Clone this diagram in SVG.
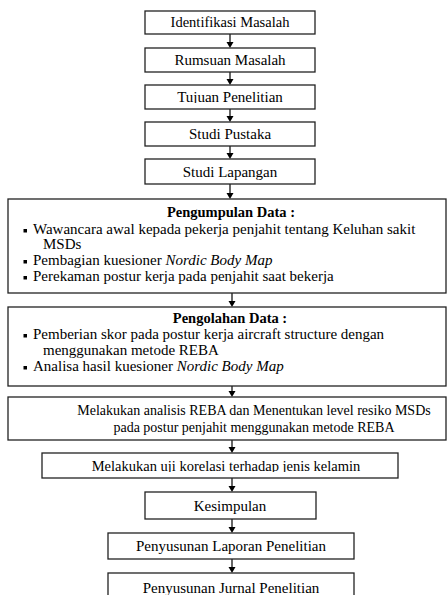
<svg xmlns="http://www.w3.org/2000/svg" width="447" height="595" viewBox="0 0 447 595">
<defs>
<style>
rect.b{fill:#fff;stroke:#222;stroke-width:1.3}
text{font-family:"Liberation Serif","Times New Roman","DejaVu Serif",serif;font-size:15px;fill:#000}
.c{text-anchor:middle}
.t{font-weight:bold;font-size:14.5px}
.i{font-style:italic}
.s{font-size:14px}
.m{font-size:14.5px}
.a line{stroke:#000;stroke-width:1.2}
.a polygon{fill:#000}
rect.bl{fill:#000}
</style>
<clipPath id="clip3"><rect x="146" y="86" width="168" height="17"/></clipPath>
<clipPath id="clip9"><rect x="43" y="454" width="354" height="18"/></clipPath>
</defs>
<rect width="447" height="595" fill="#fff"/>
<g id="connectors" class="a">
<line x1="230" y1="34" x2="230" y2="43"/><polygon points="226.5,42 233.5,42 230,48"/>
<line x1="230" y1="72" x2="230" y2="80"/><polygon points="226.5,79 233.5,79 230,85"/>
<line x1="230" y1="109" x2="230" y2="117"/><polygon points="226.5,116 233.5,116 230,122"/>
<line x1="230" y1="146" x2="230" y2="154"/><polygon points="226.5,153 233.5,153 230,159"/>
<line x1="230" y1="184" x2="230" y2="194"/><polygon points="226.5,193 233.5,193 230,199"/>
<line x1="232" y1="293" x2="232" y2="302"/><polygon points="228.5,301 235.5,301 232,307"/>
<line x1="232" y1="386" x2="232" y2="392"/><polygon points="228.5,391 235.5,391 232,397"/>
<line x1="232" y1="440" x2="232" y2="448"/><polygon points="228.5,447 235.5,447 232,453"/>
<line x1="232" y1="478" x2="232" y2="487"/><polygon points="228.5,486 235.5,486 232,492"/>
<line x1="232" y1="519" x2="232" y2="528"/><polygon points="228.5,527 235.5,527 232,533"/>
<line x1="232" y1="559" x2="232" y2="568"/><polygon points="228.5,567 235.5,567 232,573"/>
</g>
<g id="n1"><rect class="b" x="145" y="11" width="170" height="23"/><text class="c m" x="230" y="27">Identifikasi Masalah</text></g>
<g id="n2"><rect class="b" x="145" y="48" width="170" height="24"/><text class="c" x="230" y="65">Rumsuan Masalah</text></g>
<g id="n3"><rect class="b" x="145" y="85" width="170" height="24"/><text class="c" x="230" y="102" clip-path="url(#clip3)">Tujuan Penelitian</text></g>
<g id="n4"><rect class="b" x="145" y="122" width="170" height="24"/><text class="c" x="230" y="139">Studi Pustaka</text></g>
<g id="n5"><rect class="b" x="145" y="159" width="170" height="25"/><text class="c" x="230" y="177">Studi Lapangan</text></g>
<g id="n6"><rect class="b" x="8" y="199" width="438" height="94"/>
<text class="c t" x="231" y="217">Pengumpulan Data :</text>
<rect class="bl" x="23.5" y="229" width="3.5" height="3.5"/><text x="33" y="234">Wawancara awal kepada pekerja penjahit tentang Keluhan sakit</text>
<text x="43" y="249">MSDs</text>
<rect class="bl" x="23.5" y="260" width="3.5" height="3.5"/><text x="33" y="265">Pembagian kuesioner <tspan class="i">Nordic Body Map</tspan></text>
<rect class="bl" x="23.5" y="276" width="3.5" height="3.5"/><text x="33" y="281">Perekaman postur kerja pada penjahit saat bekerja</text>
</g>
<g id="n7"><rect class="b" x="8" y="307" width="438" height="79"/>
<text class="c t" x="230" y="323">Pengolahan Data :</text>
<rect class="bl" x="23.5" y="334" width="3.5" height="3.5"/><text x="33" y="339">Pemberian skor pada postur kerja aircraft structure dengan</text>
<text x="43" y="355">menggunakan metode REBA</text>
<rect class="bl" x="23.5" y="366" width="3.5" height="3.5"/><text x="33" y="371">Analisa hasil kuesioner <tspan class="i">Nordic Body Map</tspan></text>
</g>
<g id="n8"><rect class="b" x="8" y="397" width="438" height="43"/>
<text class="c s" x="254" y="415">Melakukan analisis REBA dan Menentukan level resiko MSDs</text>
<text class="c s" x="254" y="432">pada postur penjahit menggunakan metode REBA</text>
</g>
<g id="n9"><rect class="b" x="42" y="453" width="356" height="25"/><text class="c m" x="226" y="471" clip-path="url(#clip9)">Melakukan uji korelasi terhadap jenis kelamin</text></g>
<g id="n10"><rect class="b" x="145" y="492" width="171" height="27"/><text class="c" x="230" y="511">Kesimpulan</text></g>
<g id="n11"><rect class="b" x="108" y="533" width="246" height="26"/><text class="c" x="231" y="551">Penyusunan Laporan Penelitian</text></g>
<g id="n12"><rect class="b" x="108" y="573" width="246" height="30"/><text class="c" x="231" y="593">Penyusunan Jurnal Penelitian</text></g>
</svg>
